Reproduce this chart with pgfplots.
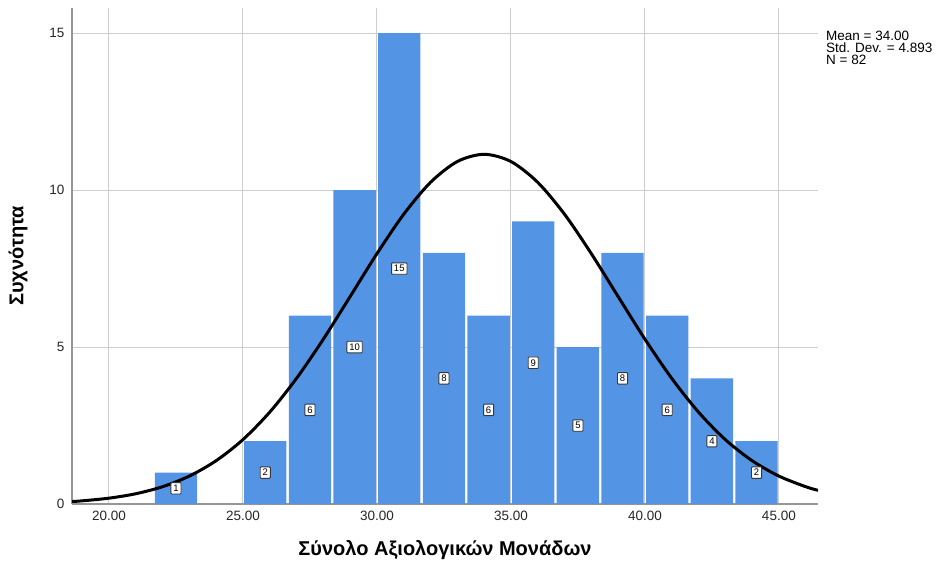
\documentclass[border=0pt]{standalone}
\usepackage{fontspec}
\setmainfont{Liberation Sans}
\usepackage{pgfplots}
\usepackage{pgfplotstable}
\pgfplotsset{compat=1.18}
\definecolor{barblue}{RGB}{84,148,228}
\definecolor{gridgray}{RGB}{205,205,205}
\definecolor{axisgray}{RGB}{150,150,150}
\definecolor{boxedge}{RGB}{55,55,55}

\pgfplotstableread{
x y
22.5000 1
25.8333 2
27.5000 6
29.1667 10
30.8333 15
32.5000 8
34.1667 6
35.8333 9
37.5000 5
39.1667 8
40.8333 6
42.5000 4
44.1667 2
}\bins

\pgfplotstableread{
x h c
22.5000 0.5 1
25.8333 1.0 2
27.5000 3.0 6
29.1667 5.0 10
30.8333 7.5 15
32.5000 4.0 8
34.1667 3.0 6
35.8333 4.5 9
37.5000 2.5 5
39.1667 4.0 8
40.8333 3.0 6
42.5000 2.0 4
44.1667 1.0 2
}\labels

\pgfplotstableread{
x y
18.62 0.079
19 0.101
20 0.186
21 0.327
22 0.551
23 0.890
24 1.380
25 2.052
26 2.927
27 4.004
28 5.252
29 6.609
30 7.976
31 9.231
32 10.247
33 10.910
34 11.140
35 10.910
36 10.247
37 9.231
38 7.976
39 6.609
40 5.252
41 4.004
42 2.927
43 2.052
44 1.380
45 0.890
46 0.551
46.46 0.436
}\curve

\begin{document}
\begin{tikzpicture}
\begin{axis}[
  scale only axis, width=746pt, height=496pt,
  xmin=18.62, xmax=46.46, ymin=0, ymax=15.8,
  axis x line*=bottom, axis y line*=left,
  axis line style={axisgray, line width=1.5pt},
  xtick={20,25,30,35,40,45}, ytick={0,5,10,15},
  xticklabel={\pgfmathprintnumber[fixed, fixed zerofill, precision=2]{\tick}},
  /pgf/number format/assume math mode=true,
  tick label style={font=\fontsize{13.5}{13.5}\selectfont, text=black!85},
  x tick label style={yshift=-4pt},
  y tick label style={xshift=-4pt},
  major tick length=0pt,
  grid=major, major grid style={gridgray, line width=1pt},
  xlabel={Σύνολο Αξιολογικών Μονάδων},
  ylabel={Συχνότητα},
  xlabel style={font=\bfseries\fontsize{20}{20}\selectfont, at={(axis description cs:0.5,-0.0927)}, anchor=center},
  ylabel style={font=\bfseries\fontsize{20}{20}\selectfont, at={(axis description cs:-0.0724,0.5)}, anchor=center},
]
\addplot[ybar, bar width=1.58, bar shift=0pt, fill=barblue, draw=none] table[x=x, y=y] {\bins};
\addplot[black, line width=3pt, smooth] table[x=x, y=y] {\curve};
\addplot[draw=none, mark=none, nodes near coords, point meta=explicit,
  nodes near coords style={anchor=center, draw=boxedge, fill=white, line width=0.9pt,
    font=\fontsize{9.5}{9.5}\selectfont, inner sep=2.4pt, rounded corners=0.8pt}]
  table[x=x, y=h, meta=c] {\labels};
\end{axis}
\node[anchor=north west, align=left, inner sep=0pt, font=\fontsize{13.5}{12}\selectfont]
  at ([shift={(8pt,-23pt)}]current axis.north east) {Mean = 34.00\\Std. Dev. = 4.893\\N = 82};
\pgfresetboundingbox
\useasboundingbox ([shift={(-72pt,-59pt)}]current axis.south west) rectangle ([shift={(118pt,8pt)}]current axis.north east);
\end{tikzpicture}
\end{document}
